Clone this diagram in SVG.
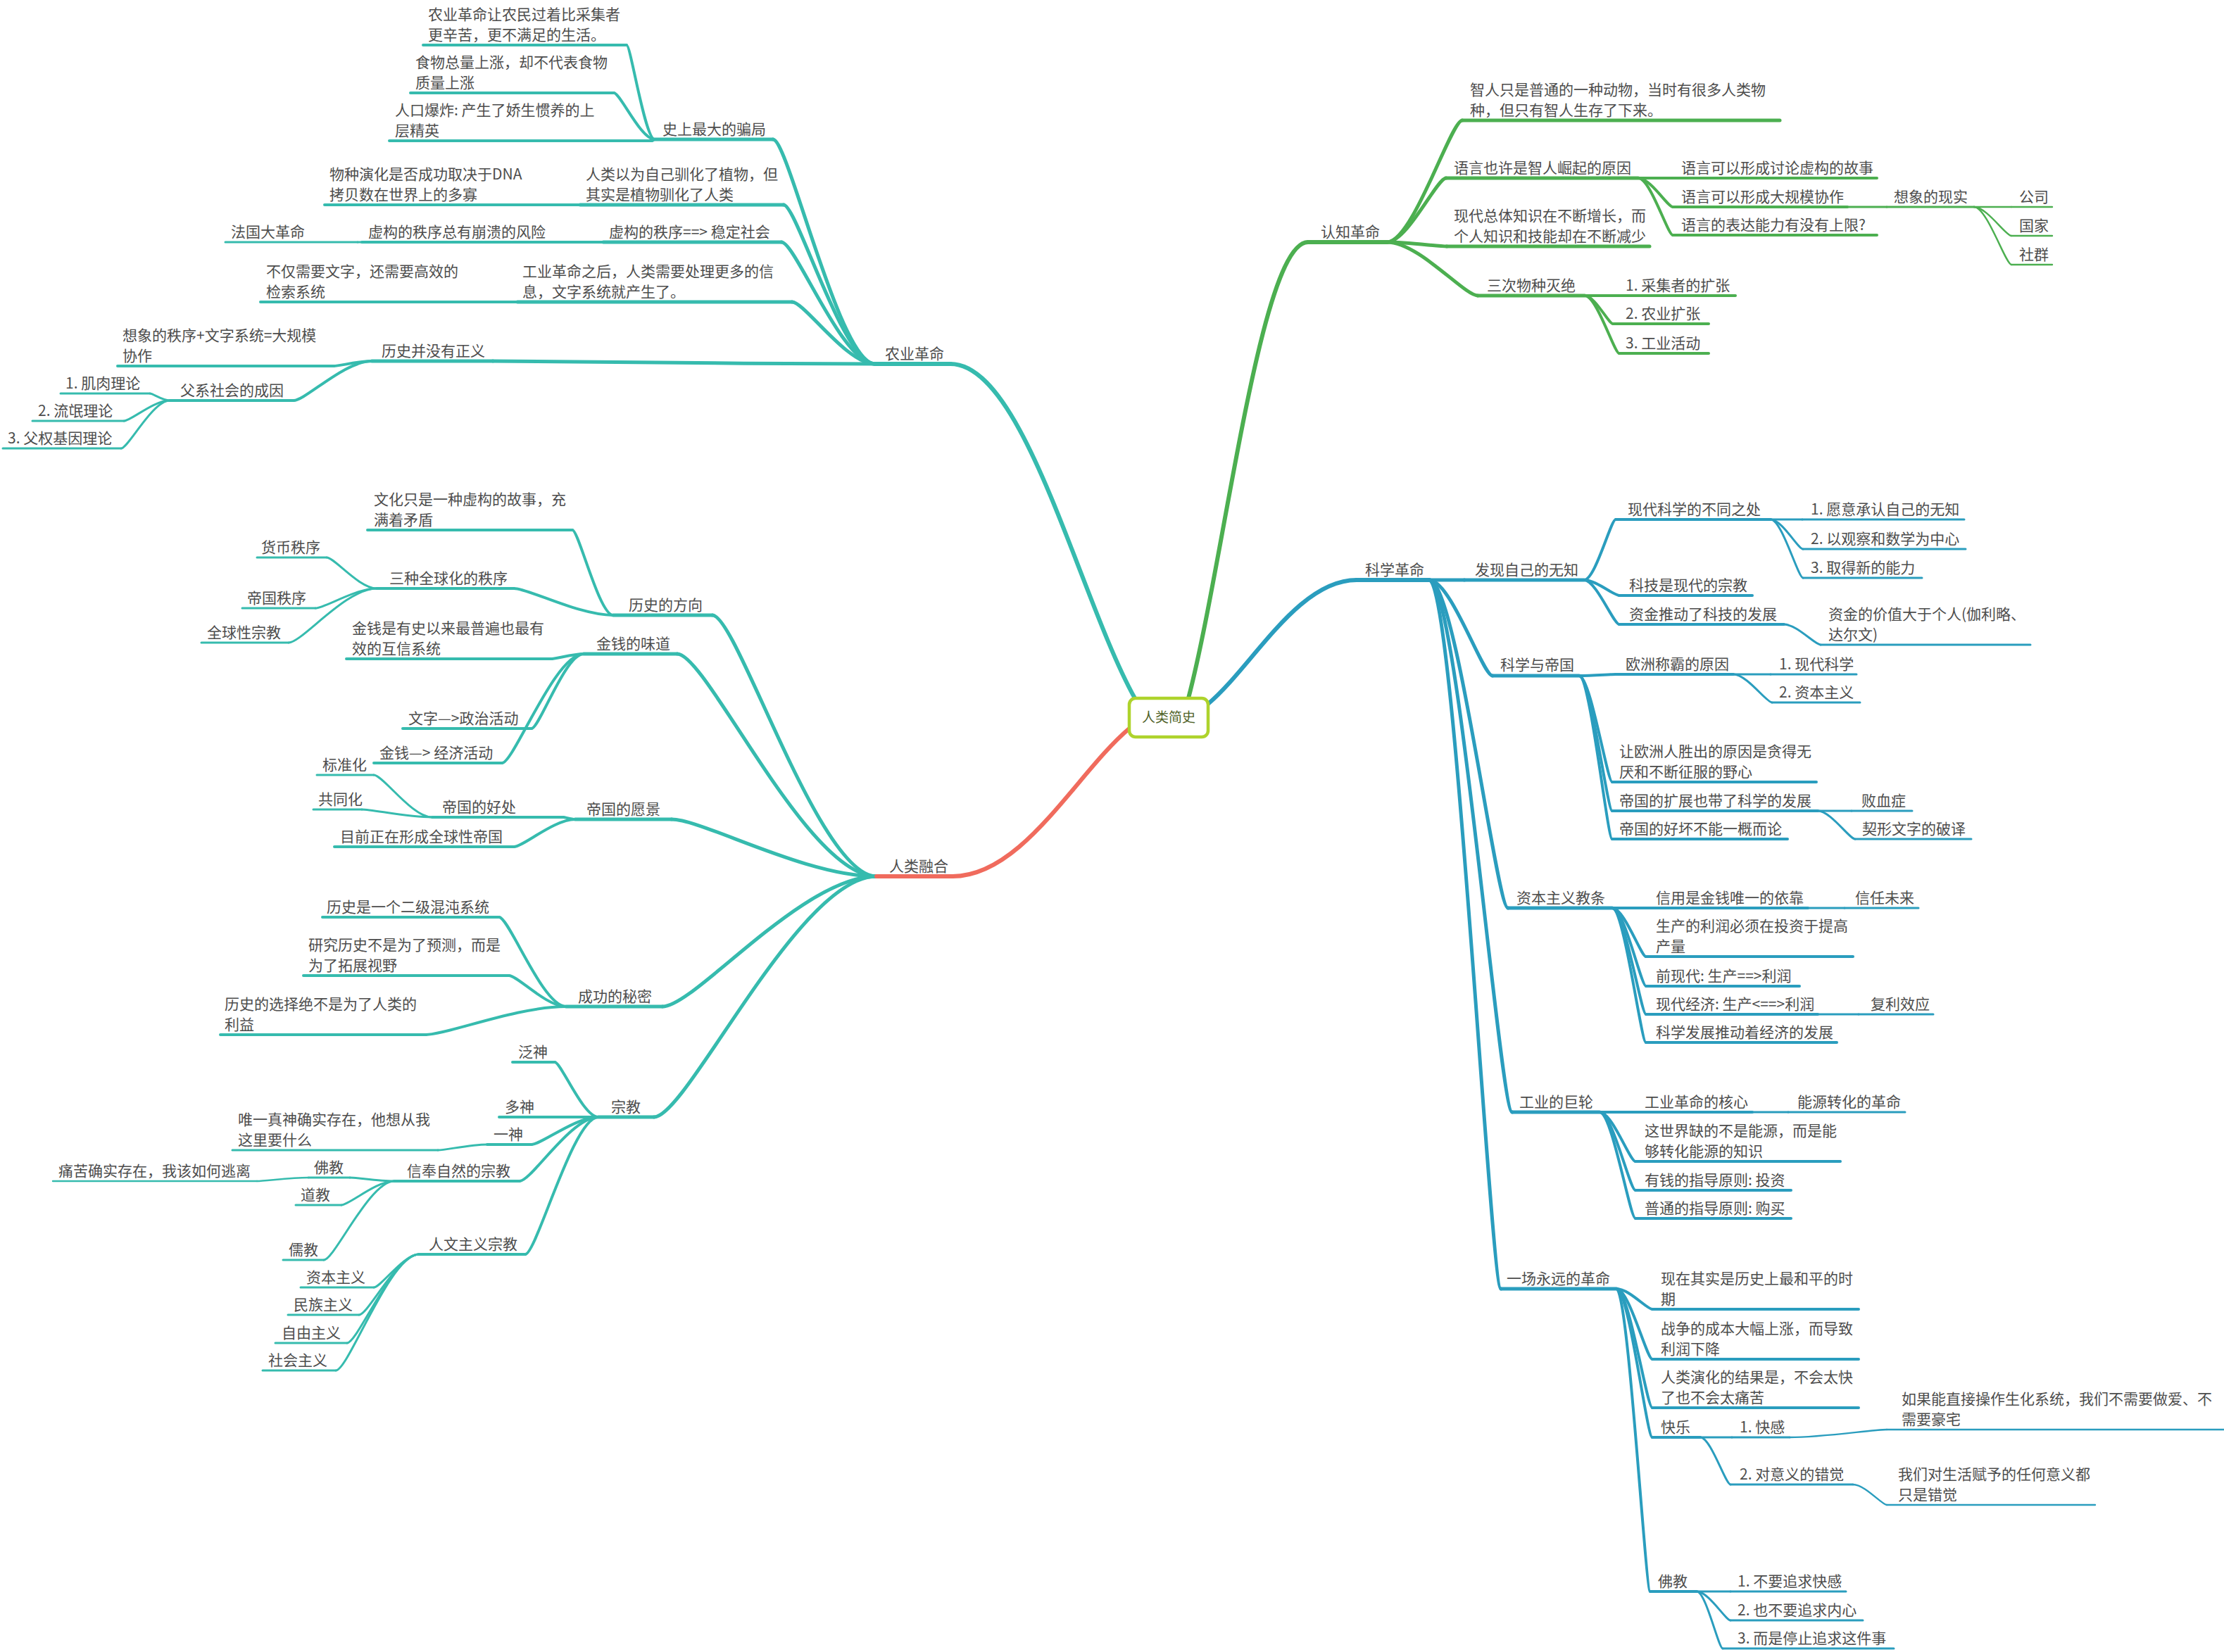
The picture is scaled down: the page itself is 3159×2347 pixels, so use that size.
<svg xmlns="http://www.w3.org/2000/svg" width="3159" height="2347" viewBox="0 0 3159 2347">
<style>
text{font-family:"Noto Sans CJK SC","Noto Sans",sans-serif;font-size:21px;fill:#4d4d4d}
.root-t{font-size:19px;fill:#4f6228;text-anchor:middle}
path{fill:none;stroke-linecap:round}
.tl{stroke:#36bbae}.rd{stroke:#f06b5d}.gr{stroke:#4caf50}.bl{stroke:#2a9dbe}
.l1{stroke-width:6}.l2{stroke-width:5}.l3{stroke-width:4}.l4{stroke-width:3}.l5{stroke-width:2.4}
</style>
<rect width="3159" height="2347" fill="#ffffff"/>
<g id="connectors">
<path class="tl l1" d="M1350,517 C1455,517 1533,850 1612,992"/>
<path class="rd l1" d="M1353,1245 C1453,1245 1529,1098 1604,1035"/>
<path class="gr l1" d="M1858,344 C1790,344 1739,798 1688,992"/>
<path class="bl l1" d="M1927,824 C1843,824 1779,947 1716,1000"/>
<path class="tl l2" d="M1243,517 C1192,517 1120,198 1098,198"/>
<path class="tl l2" d="M1243,517 C1197,517 1132,291 1113,291"/>
<path class="tl l2" d="M1243,517 C1196,517 1130,344 1110,344"/>
<path class="tl l2" d="M1243,517 C1202,517 1143,429 1125,429"/>
<path class="tl l2" d="M1243,517 C1053,517 781,513 700,513"/>
<path class="tl l3" d="M930,198 C916,198 896,64 890,64"/>
<path class="tl l3" d="M930,198 C910,198 881,132 872,132"/>
<path class="tl l3" d="M930,198 C929,198 927,200 926,200"/>
<path class="tl l3" d="M824,291 L818,291"/>
<path class="tl l3" d="M857,344 L850,344"/>
<path class="tl l4" d="M514,344 L508,344"/>
<path class="tl l3" d="M735,429 L729,429"/>
<path class="tl l3" d="M528,513 C509,513 482,520 474,520"/>
<path class="tl l3" d="M528,513 C489,513 434,569 417,569"/>
<path class="tl l4" d="M241,569 C231,569 217,559 213,559"/>
<path class="tl l4" d="M241,569 C218,569 186,598 176,598"/>
<path class="tl l4" d="M241,569 C217,569 182,637 172,637"/>
<path class="tl l2" d="M1245,1245 C1163,1245 1047,874 1012,874"/>
<path class="tl l2" d="M1245,1245 C1146,1245 1004,929 962,929"/>
<path class="tl l2" d="M1245,1245 C1143,1245 998,1164 954,1164"/>
<path class="tl l2" d="M1245,1245 C1139,1245 987,1430 941,1430"/>
<path class="tl l2" d="M1245,1245 C1134,1245 976,1587 929,1587"/>
<path class="tl l3" d="M871,874 C851,874 822,753 813,753"/>
<path class="tl l3" d="M871,874 C822,874 751,836 730,836"/>
<path class="tl l4" d="M535,836 C510,836 475,792 464,792"/>
<path class="tl l4" d="M535,836 C505,836 461,864 448,864"/>
<path class="tl l4" d="M535,836 C491,836 429,913 410,913"/>
<path class="tl l3" d="M829,929 C813,929 791,936 784,936"/>
<path class="tl l3" d="M829,929 C803,929 766,1035 755,1035"/>
<path class="tl l3" d="M829,929 C788,929 730,1084 713,1084"/>
<path class="tl l3" d="M817,1164 C811,1164 803,1161 800,1161"/>
<path class="tl l3" d="M817,1164 C787,1164 743,1203 730,1203"/>
<path class="tl l4" d="M614,1161 C585,1161 544,1101 531,1101"/>
<path class="tl l4" d="M614,1161 C579,1161 529,1150 514,1150"/>
<path class="tl l3" d="M804,1430 C771,1430 723,1303 709,1303"/>
<path class="tl l3" d="M804,1430 C776,1430 735,1386 723,1386"/>
<path class="tl l3" d="M804,1430 C734,1430 635,1470 605,1470"/>
<path class="tl l3" d="M850,1587 C828,1587 797,1509 788,1509"/>
<path class="tl l3" d="M850,1587 L771,1587"/>
<path class="tl l3" d="M850,1587 C817,1587 769,1626 755,1626"/>
<path class="tl l3" d="M850,1587 C811,1587 755,1678 738,1678"/>
<path class="tl l3" d="M850,1587 C814,1587 762,1782 746,1782"/>
<path class="tl l4" d="M692,1626 C668,1626 633,1634 622,1634"/>
<path class="tl l4" d="M560,1678 C538,1678 507,1673 497,1673"/>
<path class="tl l4" d="M560,1678 C534,1678 496,1712 485,1712"/>
<path class="tl l4" d="M560,1678 C525,1678 475,1790 460,1790"/>
<path class="tl l5" d="M438,1673 C413,1673 376,1678 365,1678"/>
<path class="tl l4" d="M595,1782 C573,1782 541,1829 531,1829"/>
<path class="tl l4" d="M595,1782 C565,1782 523,1868 510,1868"/>
<path class="tl l4" d="M595,1782 C559,1782 508,1908 493,1908"/>
<path class="tl l4" d="M595,1782 C554,1782 495,1947 477,1947"/>
<path class="gr l2" d="M1970,344 C2007,344 2061,171 2077,171"/>
<path class="gr l2" d="M1970,344 C1999,344 2041,253 2054,253"/>
<path class="gr l2" d="M1970,344 C2000,344 2042,350 2055,350"/>
<path class="gr l2" d="M1970,344 C2015,344 2080,420 2099,420"/>
<path class="gr l3" d="M2327,253 L2376,253"/>
<path class="gr l3" d="M2327,253 C2344,253 2369,294 2376,294"/>
<path class="gr l3" d="M2327,253 C2344,253 2369,334 2376,334"/>
<path class="gr l4" d="M2624,294 L2680,294"/>
<path class="gr l5" d="M2804,294 L2857,294"/>
<path class="gr l5" d="M2804,294 C2822,294 2849,335 2857,335"/>
<path class="gr l5" d="M2804,294 C2822,294 2849,376 2857,376"/>
<path class="gr l3" d="M2251,420 L2300,420"/>
<path class="gr l3" d="M2251,420 C2265,420 2285,460 2291,460"/>
<path class="gr l3" d="M2251,420 C2268,420 2293,502 2300,502"/>
<path class="bl l2" d="M2030,824 L2080,824"/>
<path class="bl l2" d="M2030,824 C2061,824 2106,960 2120,960"/>
<path class="bl l2" d="M2030,824 C2069,824 2125,1290 2142,1290"/>
<path class="bl l2" d="M2030,824 C2071,824 2130,1580 2148,1580"/>
<path class="bl l2" d="M2030,824 C2066,824 2117,1831 2132,1831"/>
<path class="bl l3" d="M2250,824 C2266,824 2288,738 2295,738"/>
<path class="bl l3" d="M2250,824 C2267,824 2292,846 2300,846"/>
<path class="bl l3" d="M2250,824 C2267,824 2292,887 2300,887"/>
<path class="bl l4" d="M2515,738 L2560,738"/>
<path class="bl l4" d="M2515,738 C2531,738 2554,780 2561,780"/>
<path class="bl l4" d="M2515,738 C2531,738 2554,821 2561,821"/>
<path class="bl l4" d="M2534,887 C2552,887 2578,916 2586,916"/>
<path class="bl l3" d="M2243,960 C2261,960 2287,958 2295,958"/>
<path class="bl l3" d="M2243,960 C2259,960 2283,1111 2290,1111"/>
<path class="bl l3" d="M2243,960 C2259,960 2283,1152 2290,1152"/>
<path class="bl l3" d="M2243,960 C2259,960 2283,1192 2290,1192"/>
<path class="bl l4" d="M2462,958 L2515,958"/>
<path class="bl l4" d="M2462,958 C2481,958 2509,998 2517,998"/>
<path class="bl l4" d="M2582,1152 L2630,1152"/>
<path class="bl l4" d="M2582,1152 C2600,1152 2627,1192 2635,1192"/>
<path class="bl l3" d="M2290,1290 L2340,1290"/>
<path class="bl l3" d="M2290,1290 C2307,1290 2331,1359 2338,1359"/>
<path class="bl l3" d="M2290,1290 C2307,1290 2331,1401 2338,1401"/>
<path class="bl l3" d="M2290,1290 C2307,1290 2331,1441 2338,1441"/>
<path class="bl l3" d="M2290,1290 C2307,1290 2331,1481 2338,1481"/>
<path class="bl l4" d="M2568,1290 L2620,1290"/>
<path class="bl l4" d="M2582,1441 L2640,1441"/>
<path class="bl l3" d="M2272,1580 L2320,1580"/>
<path class="bl l3" d="M2272,1580 C2290,1580 2315,1650 2323,1650"/>
<path class="bl l3" d="M2272,1580 C2290,1580 2315,1691 2323,1691"/>
<path class="bl l3" d="M2272,1580 C2290,1580 2315,1731 2323,1731"/>
<path class="bl l4" d="M2489,1580 L2540,1580"/>
<path class="bl l3" d="M2296,1831 C2314,1831 2339,1860 2347,1860"/>
<path class="bl l3" d="M2296,1831 C2314,1831 2339,1931 2347,1931"/>
<path class="bl l3" d="M2296,1831 C2314,1831 2339,2000 2347,2000"/>
<path class="bl l3" d="M2296,1831 C2314,1831 2339,2042 2347,2042"/>
<path class="bl l3" d="M2296,1831 C2313,1831 2337,2261 2344,2261"/>
<path class="bl l4" d="M2415,2042 L2460,2042"/>
<path class="bl l4" d="M2415,2042 C2430,2042 2451,2109 2458,2109"/>
<path class="bl l5" d="M2542,2042 C2590,2042 2659,2031 2680,2031"/>
<path class="bl l5" d="M2632,2109 C2649,2109 2673,2138 2680,2138"/>
<path class="bl l4" d="M2410,2261 L2458,2261"/>
<path class="bl l4" d="M2410,2261 C2427,2261 2451,2302 2458,2302"/>
<path class="bl l4" d="M2410,2261 C2423,2261 2441,2342 2447,2342"/>
</g>

<g id="root">
<rect x="1604" y="992" width="112" height="55" rx="9" fill="#ffffff" stroke="#aed32c" stroke-width="4.5"/>
<text class="root-t" x="1660" y="1026">人类简史</text>
</g>

<g id="n-nongye"><path class="tl l1" d="M1243,517 H1350"/><text x="1257" y="510">农业革命</text></g>
<g id="n-pianju"><path class="tl l2" d="M930,198 H1098"/><text x="941" y="191">史上最大的骗局</text></g>
<g id="n-xinku"><path class="tl l3" d="M601,64 H890"/><text><tspan x="608" y="28">农业革命让农民过着比采集者</tspan><tspan x="608" y="57">更辛苦，更不满足的生活。</tspan></text></g>
<g id="n-shiwu"><path class="tl l3" d="M583,132 H872"/><text><tspan x="590" y="96">食物总量上涨，却不代表食物</tspan><tspan x="590" y="125">质量上涨</tspan></text></g>
<g id="n-renkou"><path class="tl l3" d="M553,200 H926"/><text><tspan x="561" y="164">人口爆炸: 产生了娇生惯养的上</tspan><tspan x="561" y="193">层精英</tspan></text></g>
<g id="n-xunhua"><path class="tl l2" d="M824,291 H1113"/><text><tspan x="832" y="255">人类以为自己驯化了植物，但</tspan><tspan x="832" y="284">其实是植物驯化了人类</tspan></text></g>
<g id="n-dna"><path class="tl l3" d="M461,291 H818"/><text><tspan x="468" y="255">物种演化是否成功取决于DNA</tspan><tspan x="468" y="284">拷贝数在世界上的多寡</tspan></text></g>
<g id="n-xugou"><path class="tl l2" d="M857,344 H1110"/><text x="865" y="337">虚构的秩序==&gt; 稳定社会</text></g>
<g id="n-bengkui"><path class="tl l3" d="M514,344 H850"/><text x="523" y="337">虚构的秩序总有崩溃的风险</text></g>
<g id="n-faguo"><path class="tl l4" d="M320,344 H508"/><text x="328" y="337">法国大革命</text></g>
<g id="n-wenzi"><path class="tl l2" d="M735,429 H1125"/><text><tspan x="742" y="393">工业革命之后，人类需要处理更多的信</tspan><tspan x="742" y="422">息，文字系统就产生了。</tspan></text></g>
<g id="n-jiansuo"><path class="tl l3" d="M370,429 H729"/><text><tspan x="378" y="393">不仅需要文字，还需要高效的</tspan><tspan x="378" y="422">检索系统</tspan></text></g>
<g id="n-zhengyi"><path class="tl l2" d="M528,513 H700"/><text x="542" y="506">历史并没有正义</text></g>
<g id="n-xiangxiang"><path class="tl l3" d="M167,520 H474"/><text><tspan x="174" y="484">想象的秩序+文字系统=大规模</tspan><tspan x="174" y="513">协作</tspan></text></g>
<g id="n-fuxi"><path class="tl l3" d="M241,569 H417"/><text x="256" y="562">父系社会的成因</text></g>
<g id="n-jirou"><path class="tl l4" d="M86,559 H213"/><text x="93" y="552">1. 肌肉理论</text></g>
<g id="n-liumang"><path class="tl l4" d="M46,598 H176"/><text x="54" y="591">2. 流氓理论</text></g>
<g id="n-jiyin"><path class="tl l4" d="M4,637 H172"/><text x="11" y="630">3. 父权基因理论</text></g>

<g id="n-ronghe"><path class="rd l1" d="M1245,1245 H1353"/><text x="1263" y="1238">人类融合</text></g>
<g id="n-fangxiang"><path class="tl l2" d="M871,874 H1012"/><text x="893" y="867">历史的方向</text></g>
<g id="n-wenhua"><path class="tl l3" d="M522,753 H813"/><text><tspan x="531" y="717">文化只是一种虚构的故事，充</tspan><tspan x="531" y="746">满着矛盾</tspan></text></g>
<g id="n-sanzhong"><path class="tl l3" d="M535,836 H730"/><text x="553" y="829">三种全球化的秩序</text></g>
<g id="n-huobi"><path class="tl l4" d="M365,792 H464"/><text x="371" y="785">货币秩序</text></g>
<g id="n-diguozx"><path class="tl l4" d="M344,864 H448"/><text x="351" y="857">帝国秩序</text></g>
<g id="n-quanqiu"><path class="tl l4" d="M286,913 H410"/><text x="294" y="906">全球性宗教</text></g>
<g id="n-jinqian"><path class="tl l2" d="M829,929 H962"/><text x="847" y="922">金钱的味道</text></g>
<g id="n-huxin"><path class="tl l3" d="M492,936 H784"/><text><tspan x="500" y="900">金钱是有史以来最普遍也最有</tspan><tspan x="500" y="929">效的互信系统</tspan></text></g>
<g id="n-zhengzhi"><path class="tl l3" d="M572,1035 H755"/><text x="580" y="1028">文字—&gt;政治活动</text></g>
<g id="n-jingji"><path class="tl l3" d="M531,1084 H713"/><text x="539" y="1077">金钱—&gt; 经济活动</text></g>
<g id="n-yuanjing"><path class="tl l2" d="M817,1164 H954"/><text x="833" y="1157">帝国的愿景</text></g>
<g id="n-haochu"><path class="tl l3" d="M614,1161 H800"/><text x="628" y="1154">帝国的好处</text></g>
<g id="n-biaozhun"><path class="tl l4" d="M450,1101 H531"/><text x="458" y="1094">标准化</text></g>
<g id="n-gongtong"><path class="tl l4" d="M445,1150 H514"/><text x="452" y="1143">共同化</text></g>
<g id="n-xingcheng"><path class="tl l3" d="M475,1203 H730"/><text x="483" y="1196">目前正在形成全球性帝国</text></g>
<g id="n-mimi"><path class="tl l2" d="M804,1430 H941"/><text x="821" y="1423">成功的秘密</text></g>
<g id="n-hundun"><path class="tl l3" d="M458,1303 H709"/><text x="464" y="1296">历史是一个二级混沌系统</text></g>
<g id="n-yuce"><path class="tl l3" d="M431,1386 H723"/><text><tspan x="438" y="1350">研究历史不是为了预测，而是</tspan><tspan x="438" y="1379">为了拓展视野</tspan></text></g>
<g id="n-xuanze"><path class="tl l3" d="M313,1470 H605"/><text><tspan x="319" y="1434">历史的选择绝不是为了人类的</tspan><tspan x="319" y="1463">利益</tspan></text></g>
<g id="n-zongjiao"><path class="tl l2" d="M850,1587 H929"/><text x="868" y="1580">宗教</text></g>
<g id="n-fanshen"><path class="tl l3" d="M728,1509 H788"/><text x="736" y="1502">泛神</text></g>
<g id="n-duoshen"><path class="tl l3" d="M709,1587 H771"/><text x="717" y="1580">多神</text></g>
<g id="n-yishen"><path class="tl l3" d="M692,1626 H755"/><text x="701" y="1619">一神</text></g>
<g id="n-zhenshen"><path class="tl l4" d="M330,1634 H622"/><text><tspan x="338" y="1598">唯一真神确实存在，他想从我</tspan><tspan x="338" y="1627">这里要什么</tspan></text></g>
<g id="n-ziran"><path class="tl l3" d="M560,1678 H738"/><text x="578" y="1671">信奉自然的宗教</text></g>
<g id="n-fojiao1"><path class="tl l4" d="M438,1673 H497"/><text x="446" y="1666">佛教</text></g>
<g id="n-tongku"><path class="tl l5" d="M75,1678 H365"/><text x="83" y="1671">痛苦确实存在，我该如何逃离</text></g>
<g id="n-daojiao"><path class="tl l4" d="M420,1712 H485"/><text x="427" y="1705">道教</text></g>
<g id="n-rujiao"><path class="tl l4" d="M402,1790 H460"/><text x="410" y="1783">儒教</text></g>
<g id="n-renwen"><path class="tl l3" d="M595,1782 H746"/><text x="609" y="1775">人文主义宗教</text></g>
<g id="n-ziben1"><path class="tl l4" d="M427,1829 H531"/><text x="435" y="1822">资本主义</text></g>
<g id="n-minzu"><path class="tl l4" d="M409,1868 H510"/><text x="417" y="1861">民族主义</text></g>
<g id="n-ziyou"><path class="tl l4" d="M391,1908 H493"/><text x="400" y="1901">自由主义</text></g>
<g id="n-shehui"><path class="tl l4" d="M373,1947 H477"/><text x="381" y="1940">社会主义</text></g>

<g id="n-renzhi"><path class="gr l1" d="M1858,344 H1970"/><text x="1876" y="337">认知革命</text></g>
<g id="n-zhiren"><path class="gr l2" d="M2077,171 H2528"/><text><tspan x="2088" y="135">智人只是普通的一种动物，当时有很多人类物</tspan><tspan x="2088" y="164">种，但只有智人生存了下来。</tspan></text></g>
<g id="n-yuyan"><path class="gr l2" d="M2054,253 H2327"/><text x="2065" y="246">语言也许是智人崛起的原因</text></g>
<g id="n-gushi"><path class="gr l3" d="M2376,253 H2666"/><text x="2388" y="246">语言可以形成讨论虚构的故事</text></g>
<g id="n-xiezuo"><path class="gr l3" d="M2376,294 H2624"/><text x="2388" y="287">语言可以形成大规模协作</text></g>
<g id="n-xianshi"><path class="gr l4" d="M2680,294 H2804"/><text x="2690" y="287">想象的现实</text></g>
<g id="n-gongsi"><path class="gr l5" d="M2857,294 H2915"/><text x="2868" y="287">公司</text></g>
<g id="n-guojia"><path class="gr l5" d="M2857,335 H2915"/><text x="2868" y="328">国家</text></g>
<g id="n-shequn"><path class="gr l5" d="M2857,376 H2915"/><text x="2868" y="369">社群</text></g>
<g id="n-shangxian"><path class="gr l3" d="M2376,334 H2666"/><text x="2388" y="327">语言的表达能力有没有上限?</text></g>
<g id="n-zhishi"><path class="gr l2" d="M2055,350 H2343"/><text><tspan x="2065" y="314">现代总体知识在不断增长，而</tspan><tspan x="2065" y="343">个人知识和技能却在不断减少</tspan></text></g>
<g id="n-miejue"><path class="gr l2" d="M2099,420 H2251"/><text x="2112" y="413">三次物种灭绝</text></g>
<g id="n-caiji"><path class="gr l3" d="M2300,420 H2465"/><text x="2309" y="413">1. 采集者的扩张</text></g>
<g id="n-nongyekz"><path class="gr l3" d="M2291,460 H2427"/><text x="2309" y="453">2. 农业扩张</text></g>
<g id="n-gongye"><path class="gr l3" d="M2300,502 H2427"/><text x="2309" y="495">3. 工业活动</text></g>

<g id="n-kexue"><path class="bl l1" d="M1927,824 H2030"/><text x="1939" y="817">科学革命</text></g>
<g id="n-wuzhi"><path class="bl l2" d="M2080,824 H2250"/><text x="2095" y="817">发现自己的无知</text></g>
<g id="n-butong"><path class="bl l3" d="M2295,738 H2515"/><text x="2312" y="731">现代科学的不同之处</text></g>
<g id="n-chengren"><path class="bl l4" d="M2560,738 H2790"/><text x="2572" y="731">1. 愿意承认自己的无知</text></g>
<g id="n-guancha"><path class="bl l4" d="M2561,780 H2792"/><text x="2572" y="773">2. 以观察和数学为中心</text></g>
<g id="n-nengli"><path class="bl l4" d="M2561,821 H2730"/><text x="2572" y="814">3. 取得新的能力</text></g>
<g id="n-kjzongjiao"><path class="bl l3" d="M2300,846 H2489"/><text x="2314" y="839">科技是现代的宗教</text></g>
<g id="n-zijin"><path class="bl l3" d="M2300,887 H2534"/><text x="2314" y="880">资金推动了科技的发展</text></g>
<g id="n-jiazhi"><path class="bl l4" d="M2586,916 H2884"/><text><tspan x="2597" y="880">资金的价值大于个人(伽利略、</tspan><tspan x="2597" y="909">达尔文)</tspan></text></g>
<g id="n-diguo"><path class="bl l2" d="M2120,960 H2243"/><text x="2131" y="952">科学与帝国</text></g>
<g id="n-chengba"><path class="bl l3" d="M2295,958 H2462"/><text x="2309" y="951">欧洲称霸的原因</text></g>
<g id="n-xdkx"><path class="bl l4" d="M2515,958 H2637"/><text x="2527" y="951">1. 现代科学</text></g>
<g id="n-zbzy"><path class="bl l4" d="M2517,998 H2642"/><text x="2527" y="991">2. 资本主义</text></g>
<g id="n-tande"><path class="bl l3" d="M2290,1111 H2580"/><text><tspan x="2300" y="1075">让欧洲人胜出的原因是贪得无</tspan><tspan x="2300" y="1104">厌和不断征服的野心</tspan></text></g>
<g id="n-kuozhan"><path class="bl l3" d="M2290,1152 H2582"/><text x="2300" y="1145">帝国的扩展也带了科学的发展</text></g>
<g id="n-baixue"><path class="bl l4" d="M2630,1152 H2716"/><text x="2644" y="1145">败血症</text></g>
<g id="n-qixing"><path class="bl l4" d="M2635,1192 H2800"/><text x="2645" y="1185">契形文字的破译</text></g>
<g id="n-haohuai"><path class="bl l3" d="M2290,1192 H2539"/><text x="2300" y="1185">帝国的好坏不能一概而论</text></g>
<g id="n-jiaotiao"><path class="bl l2" d="M2142,1290 H2290"/><text x="2154" y="1283">资本主义教条</text></g>
<g id="n-xinyong"><path class="bl l3" d="M2340,1290 H2568"/><text x="2352" y="1283">信用是金钱唯一的依靠</text></g>
<g id="n-xinren"><path class="bl l4" d="M2620,1290 H2725"/><text x="2635" y="1283">信任未来</text></g>
<g id="n-lirun"><path class="bl l3" d="M2338,1359 H2632"/><text><tspan x="2352" y="1323">生产的利润必须在投资于提高</tspan><tspan x="2352" y="1352">产量</tspan></text></g>
<g id="n-qianxd"><path class="bl l3" d="M2338,1401 H2556"/><text x="2352" y="1394">前现代: 生产==&gt;利润</text></g>
<g id="n-xdjj"><path class="bl l3" d="M2338,1441 H2582"/><text x="2352" y="1434">现代经济: 生产&lt;==&gt;利润</text></g>
<g id="n-fuli"><path class="bl l4" d="M2640,1441 H2746"/><text x="2657" y="1434">复利效应</text></g>
<g id="n-tuidong"><path class="bl l3" d="M2338,1481 H2609"/><text x="2352" y="1474">科学发展推动着经济的发展</text></g>
<g id="n-julun"><path class="bl l2" d="M2148,1580 H2272"/><text x="2158" y="1573">工业的巨轮</text></g>
<g id="n-hexin"><path class="bl l3" d="M2320,1580 H2489"/><text x="2336" y="1573">工业革命的核心</text></g>
<g id="n-nengyuan"><path class="bl l4" d="M2540,1580 H2706"/><text x="2553" y="1573">能源转化的革命</text></g>
<g id="n-queshao"><path class="bl l3" d="M2323,1650 H2614"/><text><tspan x="2336" y="1614">这世界缺的不是能源，而是能</tspan><tspan x="2336" y="1643">够转化能源的知识</tspan></text></g>
<g id="n-touzi"><path class="bl l3" d="M2323,1691 H2544"/><text x="2336" y="1684">有钱的指导原则: 投资</text></g>
<g id="n-goumai"><path class="bl l3" d="M2323,1731 H2544"/><text x="2336" y="1724">普通的指导原则: 购买</text></g>
<g id="n-yongyuan"><path class="bl l2" d="M2132,1831 H2296"/><text x="2140" y="1824">一场永远的革命</text></g>
<g id="n-heping"><path class="bl l3" d="M2347,1860 H2640"/><text><tspan x="2359" y="1824">现在其实是历史上最和平的时</tspan><tspan x="2359" y="1853">期</tspan></text></g>
<g id="n-zhanzheng"><path class="bl l3" d="M2347,1931 H2640"/><text><tspan x="2359" y="1895">战争的成本大幅上涨，而导致</tspan><tspan x="2359" y="1924">利润下降</tspan></text></g>
<g id="n-yanhua"><path class="bl l3" d="M2347,2000 H2640"/><text><tspan x="2359" y="1964">人类演化的结果是，不会太快</tspan><tspan x="2359" y="1993">了也不会太痛苦</tspan></text></g>
<g id="n-kuaile"><path class="bl l3" d="M2347,2042 H2415"/><text x="2359" y="2035">快乐</text></g>
<g id="n-kuaigan"><path class="bl l4" d="M2460,2042 H2542"/><text x="2471" y="2035">1. 快感</text></g>
<g id="n-shenghua"><path class="bl l5" d="M2680,2031 H3159"/><text><tspan x="2701" y="1995">如果能直接操作生化系统，我们不需要做爱、不</tspan><tspan x="2701" y="2024">需要豪宅</tspan></text></g>
<g id="n-cuojue"><path class="bl l4" d="M2458,2109 H2632"/><text x="2471" y="2102">2. 对意义的错觉</text></g>
<g id="n-yiyi"><path class="bl l5" d="M2680,2138 H2976"/><text><tspan x="2696" y="2102">我们对生活赋予的任何意义都</tspan><tspan x="2696" y="2131">只是错觉</tspan></text></g>
<g id="n-fojiao2"><path class="bl l3" d="M2344,2261 H2410"/><text x="2355" y="2254">佛教</text></g>
<g id="n-buyao1"><path class="bl l4" d="M2458,2261 H2622"/><text x="2468" y="2254">1. 不要追求快感</text></g>
<g id="n-buyao2"><path class="bl l4" d="M2458,2302 H2646"/><text x="2468" y="2295">2. 也不要追求内心</text></g>
<g id="n-tingzhi"><path class="bl l4" d="M2447,2342 H2690"/><text x="2468" y="2335">3. 而是停止追求这件事</text></g>
</svg>
